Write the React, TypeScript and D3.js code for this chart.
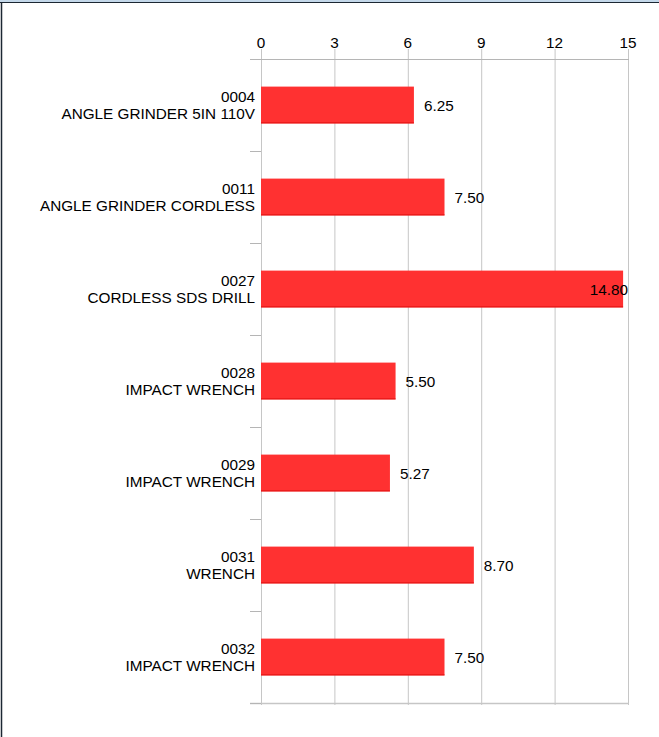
import React from "react";
import * as d3 from "d3";

const codes = ["0004", "0011", "0027", "0028", "0029", "0031", "0032"];
const names = [
  "ANGLE GRINDER 5IN 110V",
  "ANGLE GRINDER CORDLESS",
  "CORDLESS SDS DRILL",
  "IMPACT WRENCH",
  "IMPACT WRENCH",
  "WRENCH",
  "IMPACT WRENCH",
];
const values = [6.25, 7.5, 14.8, 5.5, 5.27, 8.7, 7.5];
const xTicks = [0, 3, 6, 9, 12, 15];

const W = 659;
const H = 737;
const left = 261;
const right = 628;
const top = 59;
const bottom = 703;
const FONT = "'Liberation Sans', Arial, sans-serif";
const FS = 15.3;

export default function App() {
  const x = d3.scaleLinear().domain([0, 15]).range([left, right]);
  const y = d3
    .scaleBand<number>()
    .domain(d3.range(codes.length))
    .range([top, bottom])
    .paddingInner(0.6)
    .paddingOuter(0.3);
  const step = y.step();
  const bw = y.bandwidth();
  const boundaries = d3.range(codes.length + 1).map((i) => top + i * step);

  return (
    <svg
      width={W}
      height={H}
      style={{ position: "fixed", left: 0, top: 0, background: "#fff" }}
      fontFamily={FONT}
    >
      <rect x={0} y={0} width={W} height={H} fill="#fff" />
      {/* frame */}
      <rect x={0} y={0} width={W} height={2} fill="#c4d8ea" />
      <line x1={0} x2={W} y1={2.5} y2={2.5} stroke="#1c2733" strokeWidth={1} />
      <line x1={1.5} x2={1.5} y1={2} y2={H} stroke="#1c2733" strokeWidth={1.5} />

      {/* vertical gridlines + top ticks */}
      {xTicks.map((t) => (
        <g key={t}>
          <line
            x1={x(t) + 0.5}
            x2={x(t) + 0.5}
            y1={top - 10}
            y2={bottom + 2}
            stroke="#c6c6c6"
            strokeWidth={1}
          />
          <text
            x={x(t)}
            y={48}
            textAnchor="middle"
            fontSize={FS}
            fill="#000"
          >
            {t}
          </text>
        </g>
      ))}

      {/* horizontal axis lines */}
      <line x1={250} x2={right + 1} y1={top + 0.5} y2={top + 0.5} stroke="#b5b5b5" />
      <line x1={250} x2={right + 1} y1={bottom + 0.5} y2={bottom + 0.5} stroke="#c6c6c6" strokeWidth={1.5} />

      {/* category boundary ticks */}
      {boundaries.map((b, i) => (
        <line
          key={i}
          x1={250}
          x2={left}
          y1={b + 0.5}
          y2={b + 0.5}
          stroke="#b5b5b5"
        />
      ))}

      {/* bars */}
      {values.map((v, i) => {
        const y0 = y(i)!;
        return (
          <g key={i}>
            <rect
              x={left}
              y={y0}
              width={x(v) - left}
              height={bw}
              fill="#ff3131"
            />
            <line
              x1={left}
              x2={x(v)}
              y1={y0 + bw - 0.5}
              y2={y0 + bw - 0.5}
              stroke="#e01010"
            />
          </g>
        );
      })}

      {/* category labels */}
      {codes.map((c, i) => {
        const cy = y(i)! + bw / 2;
        return (
          <text key={i} textAnchor="end" fontSize={FS} fill="#000">
            <tspan x={255} y={cy - 3.5}>
              {c}
            </tspan>
            <tspan x={255} y={cy + 13.5}>
              {names[i]}
            </tspan>
          </text>
        );
      })}

      {/* value labels */}
      {values.map((v, i) => {
        const cy = y(i)! + bw / 2;
        const label = v.toFixed(2);
        const est = label.length * 8.5;
        const xe = x(v) + 10;
        const overflow = xe + est > right;
        return (
          <text
            key={i}
            x={overflow ? right : xe}
            y={cy + 6}
            textAnchor={overflow ? "end" : "start"}
            fontSize={FS}
            fill="#000"
          >
            {label}
          </text>
        );
      })}
    </svg>
  );
}
